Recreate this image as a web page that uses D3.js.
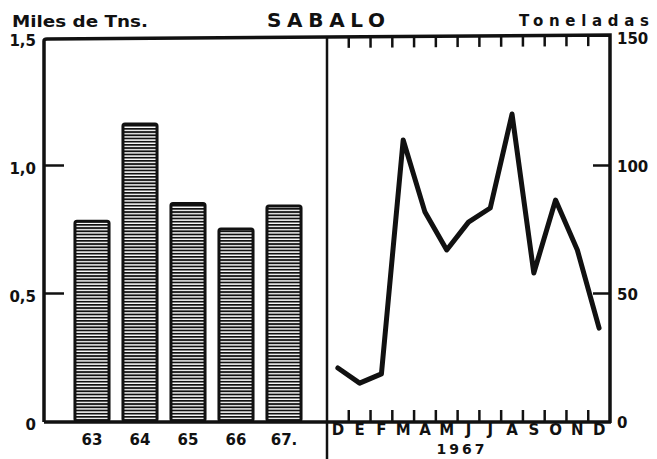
<!DOCTYPE html>
<html>
  <head>
    <meta charset="utf-8">
    <title>Sabalo</title>
    <script src="https://d3js.org/d3.v7.min.js"></script>
    <style>
      body { margin: 0; background: #fff; }
      text { font-family: "DejaVu Sans", sans-serif; font-weight: bold; fill: #111; }
    </style>
  </head>
  <body>
    <svg id="svg" width="657" height="459"></svg>
    <script>
      // data
      var years = ["63", "64", "65", "66", "67."];
      var yearTotals = [0.78, 1.16, 0.85, 0.75, 0.84];      // miles de Tns.
      var months = ["D", "E", "F", "M", "A", "M", "J", "J", "A", "S", "O", "N", "D"];
      var monthTons = [20.7, 14.8, 18.4, 109.8, 81.6, 66.8, 77.7, 83.2, 119.9, 57.8, 86.3, 66.8, 36.3];
      var leftTicks = [0, 0.5, 1, 1.5];
      var leftLabels = ["0", "0,5", "1,0", "1,5"];
      var rightTicks = [0, 50, 100, 150];

      var svg = d3.select("#svg");
      var ink = "#111";

      // frame positions
      var x0 = 44, xMid = 327, x1 = 610, yBase = 421;

      // scales
      var yLeft = d3.scaleLinear().domain([0, 1.5]).range([yBase, 37]);
      var yRight = d3.scaleLinear().domain([0, 150]).range([yBase, 37]);
      var xYear = d3.scaleBand().domain(d3.range(years.length)).range([68, 308])
        .paddingInner(0.29).paddingOuter(0.145);
      var xMonth = d3.scaleBand().domain(d3.range(months.length)).range([xMid, x1]);

      // stripe pattern for the bars
      var pat = svg.append("defs").append("pattern")
        .attr("id", "stripes").attr("patternUnits", "userSpaceOnUse")
        .attr("width", 8).attr("height", 3.2);
      pat.append("rect").attr("width", 8).attr("height", 3.2).attr("fill", "#fff");
      pat.append("rect").attr("width", 8).attr("height", 1.8).attr("fill", ink);

      // bars
      svg.selectAll(".bar")
          .data(yearTotals)
        .enter().append("rect")
          .attr("class", "bar")
          .attr("x", function(d, i) { return xYear(i); })
          .attr("y", function(d) { return yLeft(d); })
          .attr("width", xYear.bandwidth())
          .attr("height", function(d) { return yBase - yLeft(d); })
          .attr("rx", 2)
          .attr("fill", "url(#stripes)")
          .attr("stroke", ink)
          .attr("stroke-width", 3);

      // monthly line
      var line = d3.line()
        .x(function(d, i) { return xMonth(i) + xMonth.bandwidth() / 2; })
        .y(function(d) { return yRight(d); });
      svg.append("path")
        .datum(monthTons)
        .attr("d", line)
        .attr("fill", "none")
        .attr("stroke", ink)
        .attr("stroke-width", 5)
        .attr("stroke-linejoin", "round")
        .attr("stroke-linecap", "round");

      // frame
      var frame = svg.append("g")
        .attr("fill", "none").attr("stroke", ink).attr("stroke-width", 3.5);
      frame.append("path").attr("d", "M" + x0 + ",422 L" + x0 + ",41 Q" + x0 + ",39 47,39 L" + x1 + ",35 L" + x1 + ",423");
      frame.append("line").attr("x1", x0).attr("x2", x1 + 1).attr("y1", 422).attr("y2", 422);
      frame.append("line").attr("x1", xMid).attr("x2", xMid).attr("y1", 37).attr("y2", 459).attr("stroke-width", 2.5);

      // left axis: inward ticks and labels
      svg.append("g")
        .attr("transform", "translate(" + x0 + ",0)")
        .call(d3.axisRight(yLeft).tickValues([0.5, 1]).tickSize(20).tickFormat(""))
        .call(function(g) { g.select(".domain").remove(); g.selectAll("line").attr("stroke", ink).attr("stroke-width", 2.5); });
      svg.append("g")
        .attr("transform", "translate(" + (x0 - 5) + ",0)")
        .call(d3.axisLeft(yLeft).tickValues(leftTicks).tickSize(0)
          .tickFormat(function(d, i) { return leftLabels[i]; }))
        .call(function(g) {
          g.select(".domain").remove();
          g.selectAll("text").attr("font-size", 15).attr("dy", "0.55em")
            .style("font-family", "'DejaVu Sans', sans-serif").style("font-weight", "bold");
        });

      // right axis
      svg.append("g")
        .attr("transform", "translate(" + x1 + ",0)")
        .call(d3.axisLeft(yRight).tickValues([50, 100]).tickSize(17).tickFormat(""))
        .call(function(g) { g.select(".domain").remove(); g.selectAll("line").attr("stroke", ink).attr("stroke-width", 2.5); });
      svg.append("g")
        .attr("transform", "translate(" + (x1 + 4) + ",0)")
        .call(d3.axisRight(yRight).tickValues(rightTicks).tickSize(0))
        .call(function(g) {
          g.select(".domain").remove();
          g.selectAll("text").attr("font-size", 15).attr("dy", "0.4em")
            .style("font-family", "'DejaVu Sans', sans-serif").style("font-weight", "bold");
        });

      // month ticks, top and bottom
      var bounds = d3.range(1, months.length).map(function(i) { return xMonth(i); });
      svg.append("g").selectAll("line.bt")
          .data(bounds)
        .enter().append("line")
          .attr("x1", function(d) { return d; }).attr("x2", function(d) { return d; })
          .attr("y1", 410).attr("y2", 422)
          .attr("stroke", ink).attr("stroke-width", 2.5);
      svg.append("g").selectAll("line.tp")
          .data(bounds)
        .enter().append("line")
          .attr("x1", function(d) { return d; }).attr("x2", function(d) { return d; })
          .attr("y1", function(d) { return 39 - 4 * (d - x0) / (x1 - x0); })
          .attr("y2", function(d) { return 50 - 4 * (d - x0) / (x1 - x0); })
          .attr("stroke", ink).attr("stroke-width", 2.5);

      // month labels
      svg.append("g").selectAll("text")
          .data(months)
        .enter().append("text")
          .attr("x", function(d, i) { return xMonth(i) + xMonth.bandwidth() / 2; })
          .attr("y", 435)
          .attr("text-anchor", "middle")
          .attr("font-size", 15)
          .text(function(d) { return d; });
      svg.append("text")
        .attr("x", 462).attr("y", 454).attr("text-anchor", "middle")
        .attr("font-size", 14).attr("letter-spacing", 3)
        .text("1967");

      // year labels
      svg.append("g").selectAll("text")
          .data(years)
        .enter().append("text")
          .attr("x", function(d, i) { return xYear(i) + xYear.bandwidth() / 2; })
          .attr("y", 445)
          .attr("text-anchor", "middle")
          .attr("font-size", 15)
          .text(function(d) { return d; });

      // titles
      svg.append("text").attr("x", 12).attr("y", 27).attr("font-size", 15)
        .attr("textLength", 136).attr("lengthAdjust", "spacingAndGlyphs")
        .text("Miles de Tns.");
      svg.append("text").attr("x", 267).attr("y", 27).attr("font-size", 20)
        .attr("textLength", 118).attr("lengthAdjust", "spacing")
        .text("SABALO");
      svg.append("text").attr("x", 519).attr("y", 26).attr("font-size", 15)
        .attr("textLength", 130).attr("lengthAdjust", "spacing")
        .text("Toneladas");
    </script>
  </body>
</html>
